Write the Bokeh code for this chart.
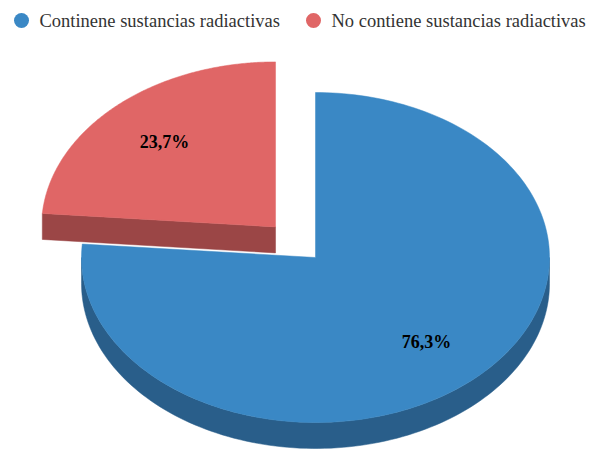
import numpy as np
from bokeh.plotting import figure
from bokeh.models import Range1d
from bokeh.core.properties import value
from bokeh.embed import file_html
from bokeh.resources import INLINE

# ---- data ----
categories = ["Continene sustancias radiactivas", "No contiene sustancias radiactivas"]
values = [76.3, 23.7]
labels = ["76,3%", "23,7%"]
top_colors = ["#3A88C5", "#E06666"]
side_colors = ["#295E8A", "#9B4646"]
explode = [0.0, 59.0]

# ---- geometry (pixel space, y grows downward) ----
W, H = 590, 452
cx, cy = 315.0, 257.0
rx, ry = 234.0, 165.0
depth = 26.0
label_frac = 0.7

p = figure(width=W, height=H, output_backend="svg", toolbar_location=None,
           x_range=Range1d(0, W), y_range=Range1d(H, 0), min_border=0)
p.axis.visible = False
p.grid.visible = False
p.outline_line_color = None
p.background_fill_color = "white"
p.border_fill_color = "white"


def pt(ccx, ccy, ang, dy=0.0):
    r = np.radians(ang)
    return ccx + rx * np.cos(r), ccy - ry * np.sin(r) + dy


total = float(sum(values))
slices = []
start = 90.0
for i, v in enumerate(values):
    a0 = start
    a1 = start - 360.0 * v / total
    start = a1
    mid = np.radians((a0 + a1) / 2)
    ox = explode[i] * np.cos(mid)
    oy = -explode[i] * np.sin(mid) * (ry / rx)
    slices.append((i, a0, a1, cx + ox, cy + oy))

# paint back to front
slices.sort(key=lambda s: s[4])

for i, a0, a1, scx, scy in slices:
    side_xs, side_ys = [], []
    # radial faces
    if np.cos(np.radians(a0)) < -1e-9:
        x1, y1 = pt(scx, scy, a0)
        side_xs.append([scx, x1, x1, scx])
        side_ys.append([scy, y1, y1 + depth, scy + depth])
    if np.cos(np.radians(a1)) > 1e-9:
        x1, y1 = pt(scx, scy, a1)
        side_xs.append([scx, x1, x1, scx])
        side_ys.append([scy, y1, y1 + depth, scy + depth])
    # front rim
    for k in (-1, 0, 1):
        lo = max(a1, -180.0 + 360 * k)
        hi = min(a0, 0.0 + 360 * k)
        if hi > lo:
            angs = np.linspace(lo, hi, 120)
            tx, ty = pt(scx, scy, angs)
            xs = list(tx) + list(tx[::-1])
            ys = list(ty) + list((ty + depth)[::-1])
            side_xs.append(xs)
            side_ys.append(ys)
    if side_xs:
        p.patches(side_xs, side_ys, fill_color=side_colors[i],
                  line_color=side_colors[i], line_width=0.5)
    # top face
    angs = np.linspace(a0, a1, 200)
    tx, ty = pt(scx, scy, angs)
    p.patch([scx] + list(tx), [scy] + list(ty), fill_color=top_colors[i],
            line_color=top_colors[i], line_width=0.5)
    # label
    mid = np.radians((a0 + a1) / 2)
    lx = scx + label_frac * rx * np.cos(mid)
    ly = scy - label_frac * ry * np.sin(mid)
    p.text([lx], [ly], text=[labels[i]], text_font=value("Liberation Serif"),
           text_font_style="bold", text_font_size="18px", text_color="black",
           text_align="center", text_baseline="middle")

# ---- legend ----
legend_x = [21, 313]
legend_y = 20
p.scatter(legend_x, [legend_y] * len(legend_x), size=15, marker="circle",
          fill_color=top_colors, line_color=None)
p.text([x + 18 for x in legend_x], [legend_y] * len(legend_x), text=categories,
       text_font=value("Liberation Serif"), text_font_size="18.5px",
       text_color="#333333", text_align="left", text_baseline="middle")

open("out.html", "w").write(file_html(p, INLINE))
